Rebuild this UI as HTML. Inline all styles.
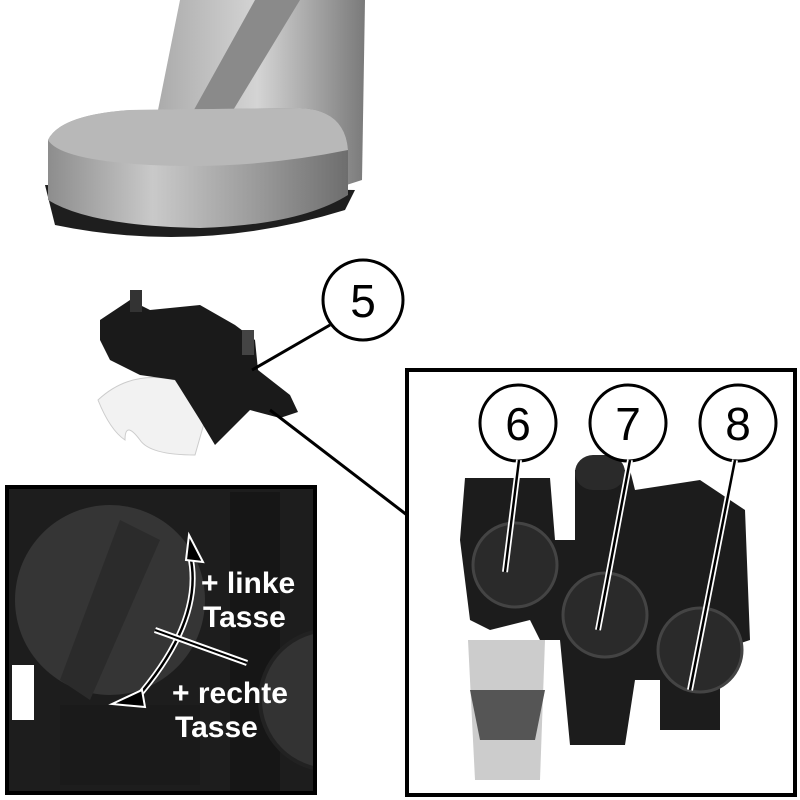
<!DOCTYPE html>
<html><head><style>html,body{margin:0;padding:0;background:#fff}svg{display:block}</style></head>
<body>
<svg width="800" height="800" viewBox="0 0 800 800" xmlns="http://www.w3.org/2000/svg" font-family="Liberation Sans, sans-serif">
<defs>
<linearGradient id="sil" x1="0" x2="1" y1="0" y2="0">
<stop offset="0" stop-color="#8d8d8d"/><stop offset="0.35" stop-color="#c9c9c9"/><stop offset="0.7" stop-color="#9a9a9a"/><stop offset="1" stop-color="#6e6e6e"/></linearGradient>
<linearGradient id="col" x1="0" x2="1"><stop offset="0" stop-color="#a8a8a8"/><stop offset="0.5" stop-color="#d4d4d4"/><stop offset="1" stop-color="#7a7a7a"/></linearGradient>
<clipPath id="lb"><rect x="7" y="487" width="308" height="306"/></clipPath>
</defs>
<!-- machine base -->
<path d="M180 0 L365 0 L362 180 L300 200 L150 150 Z" fill="url(#col)"/>
<path d="M255 0 L300 0 L215 140 L180 135 Z" fill="#8a8a8a"/>
<path d="M55 225 Q200 255 345 210 L355 190 L45 185 Z" fill="#1e1e1e"/>
<path d="M48 140 Q60 115 130 110 L300 108 Q345 110 348 150 L348 195 Q300 225 200 228 Q90 226 48 200 Z" fill="url(#sil)"/>
<path d="M48 140 Q60 115 130 110 L300 108 Q345 110 348 150 Q250 170 150 165 Q60 160 48 140 Z" fill="#b8b8b8"/>
<!-- part 5 -->
<path d="M98 400 Q130 370 175 380 L205 420 L195 455 Q150 455 140 440 Q125 420 125 440 Q110 430 98 400 Z" fill="#f2f2f2" stroke="#ccc"/>
<path d="M100 320 L130 300 L150 310 L200 305 L235 325 L255 340 L258 370 L290 395 L298 412 L280 418 L250 410 L230 430 L215 445 L200 420 L175 380 L140 375 L110 360 L100 340 Z" fill="#1a1a1a"/>
<rect x="130" y="290" width="12" height="22" fill="#333"/>
<rect x="242" y="330" width="12" height="25" fill="#444"/>
<circle cx="363" cy="300" r="40" fill="#fff" stroke="#000" stroke-width="3"/>
<text x="363" y="317" font-size="46" text-anchor="middle">5</text>
<line x1="330" y1="325" x2="252" y2="370" stroke="#000" stroke-width="3"/>
<line x1="270" y1="410" x2="407" y2="515" stroke="#000" stroke-width="3"/>
<!-- right box -->
<rect x="407" y="370" width="388" height="425" fill="#fff" stroke="#000" stroke-width="4"/>
<path d="M465 478 L550 478 L555 540 L575 540 L575 470 L630 470 L635 490 L700 480 L745 510 L750 640 L720 650 L720 730 L660 730 L660 680 L635 680 L625 745 L570 745 L560 640 L540 640 L530 620 L490 630 L470 620 L460 540 Z" fill="#1c1c1c"/>
<rect x="575" y="455" width="50" height="35" rx="18" fill="#2a2a2a"/>
<path d="M468 640 L545 640 L540 780 L475 780 Z" fill="#ccc"/>
<path d="M470 690 L545 690 L535 740 L480 740 Z" fill="#555"/>
<circle cx="515" cy="565" r="42" fill="#2a2a2a" stroke="#444" stroke-width="3"/>
<circle cx="605" cy="615" r="42" fill="#2a2a2a" stroke="#444" stroke-width="3"/>
<circle cx="700" cy="650" r="42" fill="#2a2a2a" stroke="#444" stroke-width="3"/>
<circle cx="518" cy="423" r="38" fill="#fff" stroke="#000" stroke-width="3"/>
<circle cx="628" cy="423" r="38" fill="#fff" stroke="#000" stroke-width="3"/>
<circle cx="738" cy="423" r="38" fill="#fff" stroke="#000" stroke-width="3"/>
<text x="518" y="440" font-size="46" text-anchor="middle">6</text>
<text x="628" y="440" font-size="46" text-anchor="middle">7</text>
<text x="738" y="440" font-size="46" text-anchor="middle">8</text>
<g stroke="#fff" stroke-width="6"><line x1="519" y1="460" x2="505" y2="572"/><line x1="630" y1="460" x2="598" y2="630"/><line x1="735" y1="460" x2="690" y2="690"/></g>
<g stroke="#000" stroke-width="2.5"><line x1="519" y1="460" x2="505" y2="572"/><line x1="630" y1="460" x2="598" y2="630"/><line x1="735" y1="460" x2="690" y2="690"/></g>
<!-- left box -->
<rect x="7" y="487" width="308" height="306" fill="#1d1d1d"/>
<g clip-path="url(#lb)">
<rect x="230" y="492" width="50" height="300" fill="#161616"/>
<circle cx="110" cy="600" r="95" fill="#353535"/>
<path d="M120 520 L160 540 L90 700 L60 680 Z" fill="#2b2b2b"/>
<circle cx="330" cy="700" r="70" fill="#333" stroke="#222" stroke-width="4"/>
<rect x="12" y="665" width="22" height="55" fill="#fff"/>
<rect x="60" y="705" width="140" height="80" fill="#1a1a1a"/>
</g>
<rect x="7" y="487" width="308" height="306" fill="none" stroke="#000" stroke-width="4"/>
<path d="M190 555 Q205 620 135 700" fill="none" stroke="#fff" stroke-width="6"/>
<path d="M190 555 Q205 620 135 700" fill="none" stroke="#000" stroke-width="2.5"/>
<path d="M189 535 L203 562 L186 560 Z" fill="#000" stroke="#fff" stroke-width="2"/>
<path d="M112 704 L142 690 L145 707 Z" fill="#000" stroke="#fff" stroke-width="2"/>
<line x1="155" y1="630" x2="247" y2="663" stroke="#fff" stroke-width="6"/>
<line x1="155" y1="630" x2="247" y2="663" stroke="#000" stroke-width="2"/>
<g fill="#fff" font-weight="bold" font-size="30">
<text x="201" y="593">+ linke</text>
<text x="203" y="627">Tasse</text>
<text x="172" y="703">+ rechte</text>
<text x="175" y="737">Tasse</text>
</g>
</svg>
</body></html>
